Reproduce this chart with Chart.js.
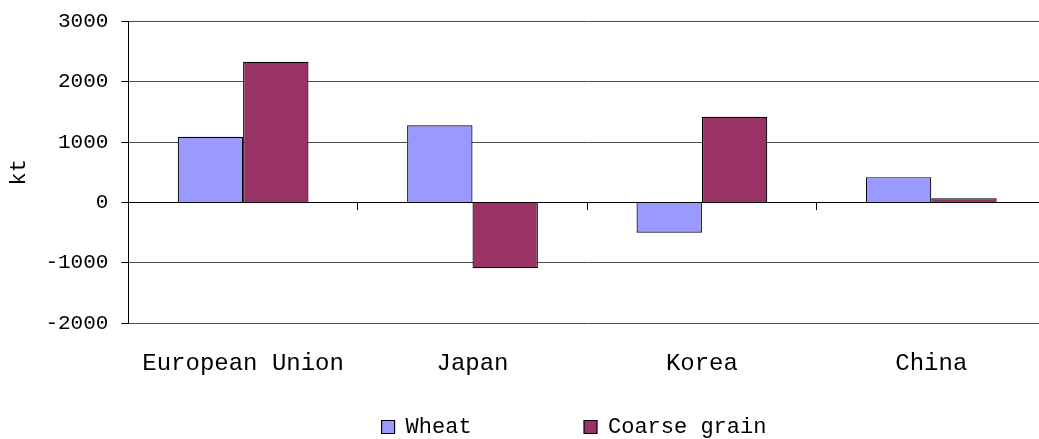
<!DOCTYPE html>
<html>
<head>
<meta charset="utf-8">
<script src="https://cdn.jsdelivr.net/npm/chart.js@4"></script>
<style>
  html, body { margin: 0; padding: 0; background: #fff; overflow: hidden; }
  #wrap { position: relative; width: 1052px; height: 439px; }
</style>
</head>
<body>
<div id="wrap"><canvas id="grainChart"></canvas></div>
<script>
// --- Data ---
const categories = ['European Union', 'Japan', 'Korea', 'China'];
const wheat = [1090, 1280, -500, 420];
const coarseGrain = [2330, -1090, 1420, 70];
const yTicks = [-2000, -1000, 0, 1000, 2000, 3000];
const seriesNames = ['Wheat', 'Coarse grain'];

const FONT = 'Liberation Mono';
const INK = '#000';

const legendDefaults = Chart.defaults.plugins.legend.labels.generateLabels;

new Chart(document.getElementById('grainChart').getContext('2d'), {
    type: 'bar',
    data: {
        labels: categories,
        datasets: [{
            label: seriesNames[0],
            data: wheat,
            backgroundColor: '#9999ff',
            borderColor: '#000',
            borderWidth: 1.2,
            xAxisID: 'x'
        }, {
            label: seriesNames[1],
            data: coarseGrain,
            backgroundColor: '#993366',
            borderColor: '#000',
            borderWidth: 1.2,
            xAxisID: 'x'
        }]
    },
    options: {
        responsive: true,
        maintainAspectRatio: false,
        animation: false,
        categoryPercentage: 0.57,
        barPercentage: 1.0,
        layout: { padding: { top: 2, right: 6, bottom: -9, left: 6 } },
        scales: {
            // labelled axis along the bottom
            x: {
                type: 'category',
                position: 'bottom',
                offset: true,
                grid: { display: false },
                border: { display: false },
                ticks: { color: INK, font: { family: FONT, size: 24 }, padding: 18, maxRotation: 0 }
            },
            // category axis crossing at zero, ticks between groups
            x0: {
                type: 'category',
                position: { y: 0 },
                offset: true,
                grid: { offset: true, drawOnChartArea: false, tickLength: 7, color: '#000' },
                border: { color: '#000', width: 1 },
                ticks: { display: false }
            },
            y: {
                min: -2000,
                max: 3000,
                afterBuildTicks: s => { s.ticks = yTicks.map(v => ({ value: v })); },
                ticks: { color: INK, font: { family: FONT, size: 21, lineHeight: 0.8 }, padding: 13, callback: v => String(v) },
                grid: {
                    color: c => (c.tick && c.tick.value === 0) ? '#000' : '#4d4d4d',
                    tickColor: '#000',
                    tickLength: 7
                },
                border: { color: '#000' },
                title: { display: true, text: 'kt', color: INK, font: { family: FONT, size: 22 }, padding: { top: 0, bottom: 0 } }
            }
        },
        plugins: {
            legend: {
                position: 'bottom',
                fullSize: false,
                labels: {
                    color: INK,
                    font: { family: FONT, size: 22 },
                    boxWidth: 13,
                    boxHeight: 13,
                    padding: 20,
                    // wide gap between the two entries, as in the reference
                    generateLabels: chart => legendDefaults(chart).map((it, i) =>
                        Object.assign(it, { text: it.text + (i === 0 ? '       ' : '  ') }))
                }
            },
            tooltip: { enabled: false }
        }
    }
});
</script>
</body>
</html>
